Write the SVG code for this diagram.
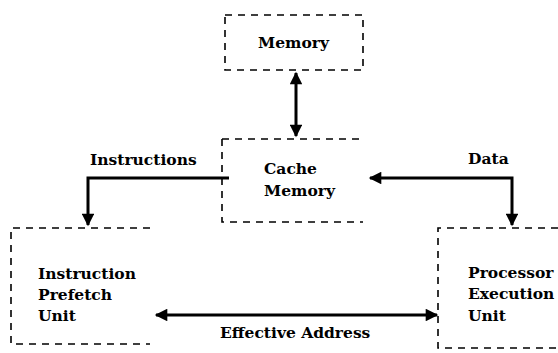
<svg xmlns="http://www.w3.org/2000/svg" width="558" height="353" viewBox="0 0 558 353">
<defs>
<style>
.box{fill:none;stroke:#000;stroke-width:1.6;stroke-dasharray:7 6}
.conn{fill:none;stroke:#000;stroke-width:3}
text{font-family:"DejaVu Serif","Liberation Serif",serif;font-weight:bold;font-size:15.5px;fill:#000}
</style>
<marker id="ah" viewBox="0 0 10 10" refX="9" refY="5" markerWidth="4.6" markerHeight="4.2" orient="auto-start-reverse" markerUnits="strokeWidth">
<path d="M0,0 L10,5 L0,10 z" fill="#000"/>
</marker>
</defs>
<rect width="558" height="353" fill="#fff"/>
<g id="memory">
<rect class="box" x="225" y="15" width="138" height="55"/>
<text x="258" y="48">Memory</text>
</g>
<g id="cache">
<path class="box" d="M222,139 H363 M222,139 V222 H363"/>
<text x="264" y="174">Cache</text>
<text x="264" y="196">Memory</text>
</g>
<g id="prefetch">
<path class="box" d="M150,228 H11 V344 H150"/>
<text x="38" y="279">Instruction</text>
<text x="38" y="300">Prefetch</text>
<text x="38" y="321">Unit</text>
</g>
<g id="processor">
<path class="box" d="M558,228 H438 V348 H558"/>
<text x="468" y="278">Processor</text>
<text x="468" y="299">Execution</text>
<text x="468" y="321">Unit</text>
</g>
<g id="connectors">
<line class="conn" x1="296" y1="73" x2="296" y2="136" marker-start="url(#ah)" marker-end="url(#ah)"/>
<path class="conn" d="M229,178 H88 V225" marker-end="url(#ah)"/>
<path class="conn" d="M512,225 V178 H370" marker-start="url(#ah)" marker-end="url(#ah)"/>
<line class="conn" x1="156" y1="315" x2="437" y2="315" marker-start="url(#ah)" marker-end="url(#ah)"/>
<text x="90" y="165">Instructions</text>
<text x="468" y="164">Data</text>
<text x="220" y="338">Effective Address</text>
</g>
</svg>
